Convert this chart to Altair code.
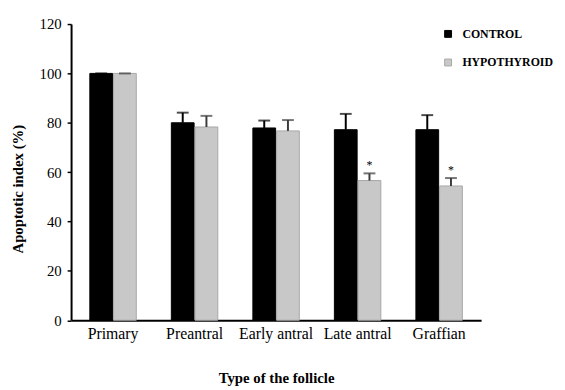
import altair as alt
import pandas as pd

categories = ["Primary", "Preantral", "Early antral", "Late antral", "Graffian"]
groups = ["CONTROL", "HYPOTHYROID"]
control = [100, 80.0, 77.9, 77.2, 77.2]
control_err = [0, 4.1, 3.0, 6.4, 5.9]
hypo = [100, 78.3, 76.7, 56.6, 54.4]
hypo_err = [0, 4.5, 4.4, 2.9, 3.2]
hypo_star = ["", "", "", "*", "*"]

rows = []
for i, c in enumerate(categories):
    rows.append(dict(cat=c, group=groups[0], value=control[i], err=control_err[i],
                     top=control[i] + control_err[i], star=""))
    rows.append(dict(cat=c, group=groups[1], value=hypo[i], err=hypo_err[i],
                     top=hypo[i] + hypo_err[i], star=hypo_star[i]))
df = pd.DataFrame(rows)

FONT = "Times New Roman, Liberation Serif, DejaVu Serif, serif"

x = alt.X("cat:N", sort=categories,
          scale=alt.Scale(paddingInner=0.43, paddingOuter=0.23),
          axis=alt.Axis(title="Type of the follicle", labelAngle=0, ticks=False, tickSize=0,
                        labelPadding=6, labelFont=FONT, labelFontSize=16, labelColor="black",
                        domainColor="black", domainWidth=2,
                        titleFont=FONT, titleFontSize=15, titleFontWeight="bold", titleColor="black",
                        titleX=208, titleY=63, titleAlign="center", titleBaseline="alphabetic"))
xo = alt.XOffset("group:N", sort=groups, scale=alt.Scale(paddingInner=0.04))
y = alt.Y("value:Q", scale=alt.Scale(domain=[0, 120], nice=False),
          axis=alt.Axis(title="Apoptotic index (%)", values=[0, 20, 40, 60, 80, 100, 120],
                        grid=False, tickSize=4, tickWidth=1.5, tickColor="black",
                        labelPadding=6, labelFont=FONT, labelFontSize=15, labelColor="black",
                        domainColor="black", domainWidth=2,
                        titleFont=FONT, titleFontSize=15, titleFontWeight="bold", titleColor="black",
                        titleAngle=270, titleX=-54, titleY=167, titleAlign="center",
                        titleBaseline="middle"))

fill = alt.Fill("group:N", sort=groups,
                scale=alt.Scale(domain=groups, range=["#000000", "#c8c8c8"]),
                legend=alt.Legend(title=None))
stroke = alt.Stroke("group:N", sort=groups,
                    scale=alt.Scale(domain=groups, range=["#000000", "#a8a8a8"]),
                    legend=alt.Legend(title=None))
errcolor = alt.Color("group:N", sort=groups,
                     scale=alt.Scale(domain=groups, range=["#000000", "#3c3c3c"]), legend=None)

base = alt.Chart(df)
bars = base.mark_bar(strokeWidth=1).encode(x=x, xOffset=xo, y=y, fill=fill, stroke=stroke)
rules = base.mark_rule(strokeWidth=2).encode(x=x, xOffset=xo, y="value:Q", y2="top:Q", color=errcolor)
caps = base.mark_tick(size=12, thickness=2).encode(x=x, xOffset=xo, y="top:Q", color=errcolor)
stars = base.transform_filter(alt.datum.star != "").mark_text(
    font=FONT, fontSize=12, baseline="alphabetic", dy=-4, color="#000000"
).encode(x=x, xOffset=xo, y="top:Q", text="star:N")

chart = alt.layer(bars, rules, caps, stars).properties(
    width=416, height=300.5,
    autosize=alt.AutoSizeParams(type="none"),
    padding={"left": 64, "top": 13.5, "right": 77, "bottom": 68},
).configure_view(stroke=None).configure_legend(
    orient="none", legendX=376.5, legendY=4, padding=0,
    labelFont=FONT, labelFontWeight="bold", labelFontSize=12, labelColor="black",
    symbolType="square", symbolSize=49, symbolStrokeWidth=1,
    rowPadding=17, labelOffset=8.5,
)

chart.save("out.html", embed_options={"renderer": "svg", "actions": False})
